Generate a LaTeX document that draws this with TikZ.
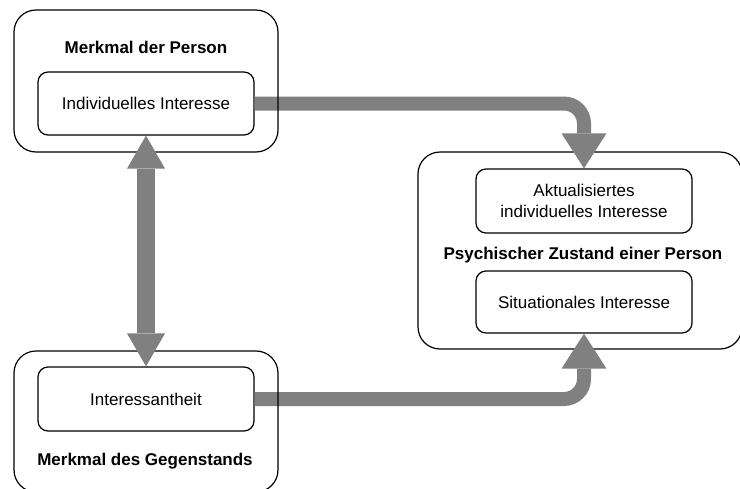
\documentclass[tikz,border=0pt]{standalone}
\usepackage{fontspec}
\setmainfont{Liberation Sans}
\usetikzlibrary{arrows.meta}
\definecolor{arrowgray}{HTML}{808080}
\begin{document}
\begin{tikzpicture}[x=1pt,y=-1pt,
  outerbox/.style={draw, line width=1.2pt, rounded corners=22pt, inner sep=0pt},
  innerbox/.style={draw, fill=white, line width=1.2pt, rounded corners=10pt,
    minimum width=216pt, inner sep=0pt, align=center,
    font=\fontsize{17}{21}\selectfont},
  ttl/.style={inner sep=0pt, anchor=base, font=\fontsize{17}{21}\selectfont\bfseries},
  flow/.style={draw=arrowgray, line width=14pt, rounded corners=20pt,
    -{Triangle[width=45pt,length=35pt,line width=0pt]}},
  dbl/.style={draw=arrowgray, line width=18pt,
    {Triangle[width=38pt,length=33pt,line width=0pt]}-{Triangle[width=38pt,length=33pt,line width=0pt]}}]
\useasboundingbox (0,0) rectangle (740,488);
\clip (0,0) rectangle (740,488);
% right outer box
\node[outerbox, minimum width=324pt, minimum height=197pt] (zst) at (580,250.5) {};
% inner boxes
\node[innerbox, minimum height=63pt] (ind) at (146,103.5) {Individuelles Interesse};
\node[innerbox, minimum height=64pt] (int) at (146,399) {Interessantheit};
\node[innerbox, minimum height=64pt] (akt) at (584,201) {Aktualisiertes\\individuelles Interesse};
\node[innerbox, minimum height=62pt] (sit) at (584,302) {Situationales Interesse};
% titles
\node[ttl] (tp) at (146,53) {Merkmal der Person};
\node[ttl] (tz) at (583,259) {Psychischer Zustand einer Person};
\node[ttl] (tg) at (145,465) {Merkmal des Gegenstands};
% horizontal arrows
\draw[flow] (ind.east) -| (akt.north);
\draw[flow] (int.east) -| (sit.south);
% left outer boxes
\node[outerbox, minimum width=264pt, minimum height=142pt] (per) at (146,81) {};
\node[outerbox, minimum width=264pt, minimum height=141pt] (geg) at (146,421.5) {};
% vertical double arrow
\draw[dbl] (ind.south) -- (int.north);
\end{tikzpicture}
\end{document}
